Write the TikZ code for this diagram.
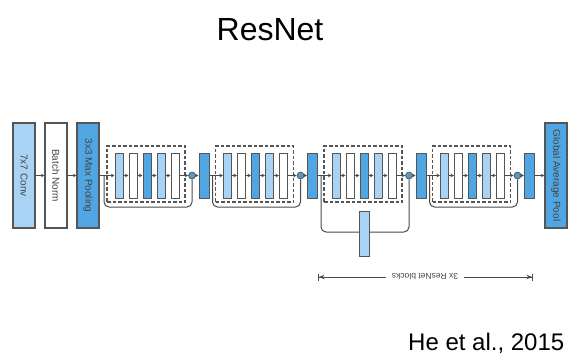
\documentclass[tikz,border=0pt]{standalone}
\usepackage{fontspec}
\setmainfont{Liberation Sans}
\usetikzlibrary{arrows.meta}

\definecolor{lightlayer}{HTML}{A9D3F5}
\definecolor{midlayer}{HTML}{4FA6E3}
\definecolor{edgegray}{HTML}{555555}
\definecolor{linegray}{HTML}{4A4A4A}
\definecolor{joinblue}{HTML}{5A97BF}
\definecolor{labelgray}{HTML}{444444}

\tikzset{
  layer/.style={draw=edgegray, line width=1pt, minimum width=8pt, minimum height=45pt, inner sep=0pt},
  widelayer/.style={layer, minimum width=10pt},
  bigbox/.style={draw=edgegray, line width=1.1pt, rotate=-90, minimum width=105pt, minimum height=22pt,
    inner sep=0pt, font=\fontsize{10}{11}\selectfont, text=labelgray},
  light/.style={fill=lightlayer},
  mid/.style={fill=midlayer},
  plain/.style={fill=white},
  flow/.style={draw=linegray, line width=0.9pt, -{Stealth[length=3.5pt,width=3.5pt]}},
  skipline/.style={draw=linegray, line width=1pt, rounded corners=5pt},
  addnode/.style={circle, fill=joinblue, draw=linegray, line width=0.6pt, minimum size=7pt, inner sep=0pt},
  blockframe/.style={draw=edgegray, line width=1.2pt, dash pattern=on 3.5pt off 2pt,
    minimum width=78pt, minimum height=56pt, inner sep=0pt},
  span/.style={draw=linegray, line width=1pt,
    {Bar[width=7pt]Stealth[length=5.5pt,width=4.5pt]}-{Stealth[length=5.5pt,width=4.5pt]Bar[width=7pt]}},
}

\begin{document}
\begin{tikzpicture}[x=1pt, y=-1pt]
  \useasboundingbox[fill=white] (0,0) rectangle (571,357);

  % title and citation
  \node[anchor=base, inner sep=0pt, font=\fontsize{32}{36}\selectfont] (title) at (270,40.5) {ResNet};
  \node[anchor=base west, inner sep=0pt, font=\fontsize{24}{28}\selectfont] (cite) at (408,350.5) {He et al., 2015};

  % stem
  \node[bigbox, light] (conv) at (24,175.5) {7x7 Conv};
  \node[bigbox, plain] (bn)   at (56,175.5) {Batch Norm};
  \node[bigbox, mid]   (pool) at (88,175.5) {3x3 Max Pooling};
  \node[bigbox, mid]   (gap)  at (556,175.5) {Global Average Pool};

  \draw[flow] (conv) -- (bn);
  \draw[flow] (bn) -- (pool);

  % residual blocks
  \foreach \k in {0,1,2,3} {
    \pgfmathsetmacro{\X}{107+108.5*\k}
    \node[blockframe] (f\k) at (\X+39,174) {};
    \coordinate (s\k) at (\X-3,175.5);
    \ifnum\k=2
      \coordinate (d\k) at (\X+40,232);
    \else
      \coordinate (d\k) at (\X+40,207);
    \fi
    \node[addnode] (j\k) at (\X+85,175.5) {};
    \draw[skipline] (s\k) |- (d\k) -| (j\k);
    \node[layer, light] (b\k-0) at (\X+12,175.5) {};
    \node[layer, plain] (b\k-1) at (\X+26,175.5) {};
    \node[layer, mid]   (b\k-2) at (\X+40,175.5) {};
    \node[layer, light] (b\k-3) at (\X+54,175.5) {};
    \node[layer, plain] (b\k-4) at (\X+68,175.5) {};
    \node[widelayer, mid] (p\k) at (\X+97,175.5) {};
    \draw[flow] (b\k-0) -- (b\k-1);
    \draw[flow] (b\k-1) -- (b\k-2);
    \draw[flow] (b\k-2) -- (b\k-3);
    \draw[flow] (b\k-3) -- (b\k-4);
    \draw[flow] (b\k-4) -- (j\k);
    \draw[flow] (j\k) -- (p\k);
  }

  % projection shortcut of the downsampling block
  \node[widelayer, light] (proj) at (364,233.5) {};

  % links between stages
  \draw[flow] (pool) -- (b0-0);
  \draw[flow] (p0) -- (b1-0);
  \draw[flow] (p1) -- (b2-0);
  \draw[flow] (p2) -- (b3-0);
  \draw[flow] (p3) -- (gap);

  % span of the repeated blocks
  \coordinate (spanL) at (318,277);
  \coordinate (spanR) at (533,277);
  \draw[span] (spanL) -- (spanR);
  \node[fill=white, inner xsep=6pt, inner ysep=1pt, rotate=180, font=\fontsize{8.5}{10}\selectfont,
    text=labelgray] (spantext) at (425,277) {3x ResNet blocks};
\end{tikzpicture}
\end{document}
